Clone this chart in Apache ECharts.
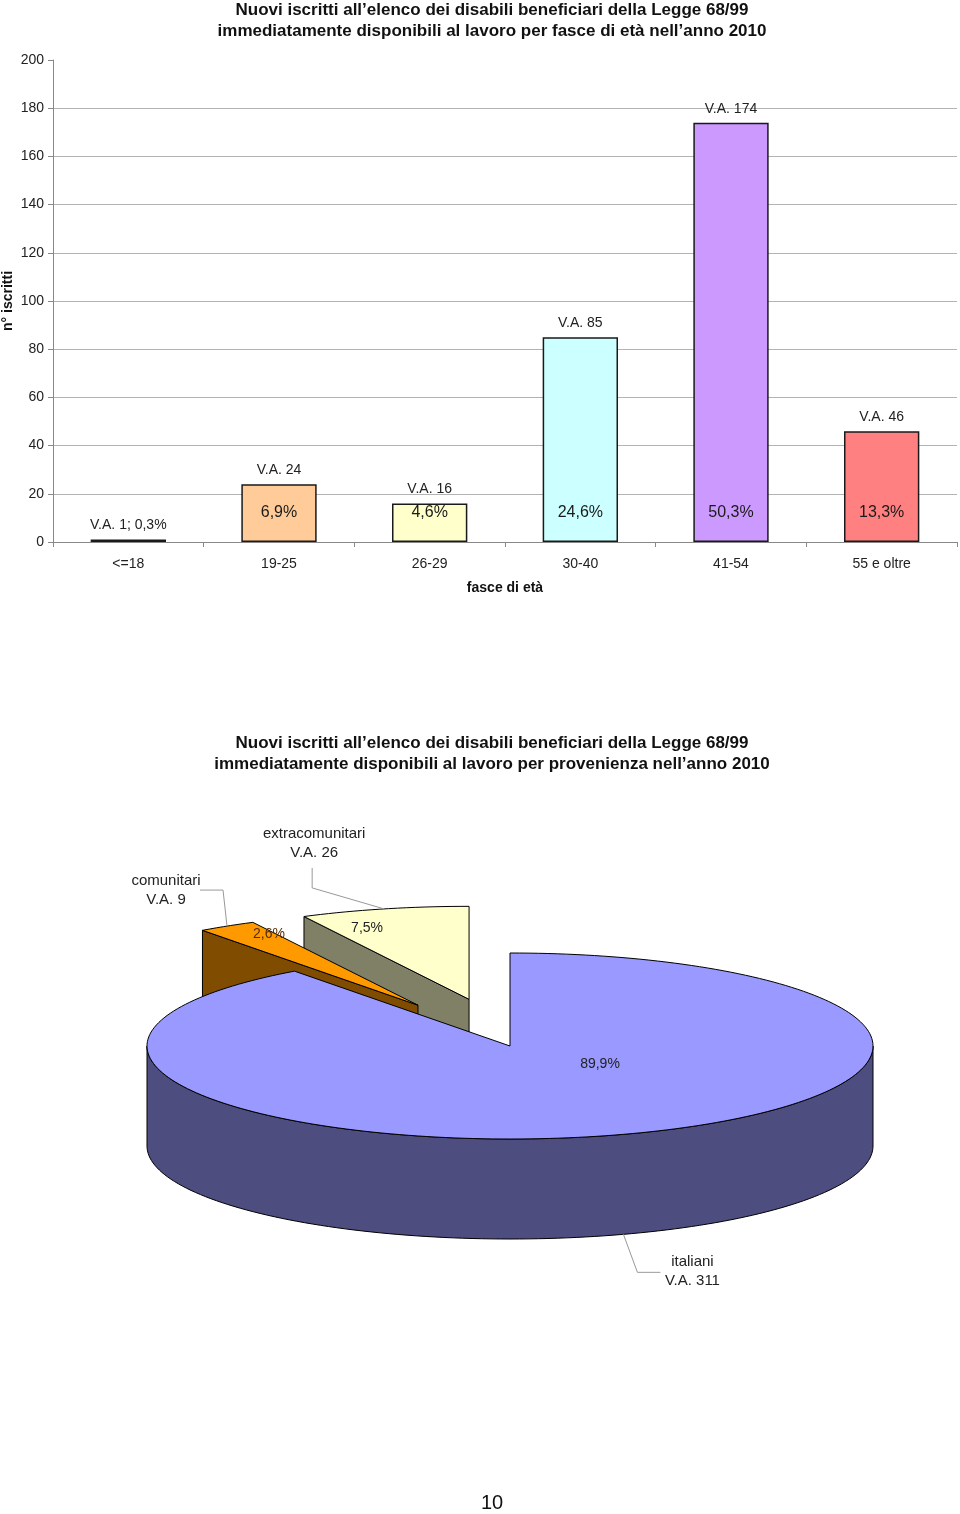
<!DOCTYPE html>
<html><head><meta charset="utf-8">
<script src="https://cdn.jsdelivr.net/npm/echarts@6/dist/echarts.min.js"></script>
<style>html,body{margin:0;padding:0;background:#fff}#c{width:960px;height:1514px}</style>
</head><body><div id="c"></div>
<script>
// ---------- data ----------
const ageCategories = ['<=18', '19-25', '26-29', '30-40', '41-54', '55 e oltre'];
const ageValues = [1, 24, 16, 85, 174, 46];
const agePercents = ['0,3%', '6,9%', '4,6%', '24,6%', '50,3%', '13,3%'];
const yTicks = [0, 20, 40, 60, 80, 100, 120, 140, 160, 180, 200];

const originCategories = ['italiani', 'comunitari', 'extracomunitari'];
const originValues = [311, 9, 26];
const originPercents = ['89,9%', '2,6%', '7,5%'];

const barTitle = 'Nuovi iscritti all\u2019elenco dei disabili beneficiari della Legge 68/99\nimmediatamente disponibili al lavoro per fasce di età nell\u2019anno 2010';
const pieTitle = 'Nuovi iscritti all\u2019elenco dei disabili beneficiari della Legge 68/99\nimmediatamente disponibili al lavoro per provenienza nell\u2019anno 2010';

// ---------- styles ----------
const FONT = '"Liberation Sans", Arial, sans-serif';
const barColors = ['#333399', '#FFCC99', '#FFFFCC', '#CCFFFF', '#CC99FF', '#FF8080'];
const pctLabelLevel = 12.2;

const PIE = {cx: 510, cy: 1046, rx: 363, ry: 93, depth: 100, ex: 175, ey: 48};
const pieTop = ['#9999FF', '#FF9900', '#FFFFCC'];
const pieSide = ['#4D4D80', '#804C00', '#808066'];
const pieExplode = [0, 1, 1];
const pieZ = [3, 2, 1];
const piePctOffset = [[90, 18], [-149, -71], [-102, -71]];
const pieLeader = [
  {bend: [14, 38], end: [37, 38], text: [69, 37]},
  {bend: [-4, -36], end: [-27, -36], text: [-61, -36]},
  {bend: [-72, -21], end: [-72, -41], text: [-70, -66]}
];

const total = originValues.reduce((a, b) => a + b, 0);
const starts = [];
{ let acc = 0; originValues.forEach(v => { starts.push(acc); acc += v / total * 360; }); }

const R = Math.PI / 180;
function pt(cx, cy, a, dy) { return [cx + PIE.rx * Math.sin(a * R), cy - PIE.ry * Math.cos(a * R) + (dy || 0)]; }
function arc(cx, cy, a1, a2, dy) {
  const n = Math.max(2, Math.ceil((a2 - a1) / 1.5));
  const out = [];
  for (let k = 0; k <= n; k++) out.push(pt(cx, cy, a1 + (a2 - a1) * k / n, dy));
  return out;
}

function renderPie(params, api) {
  const i = params.dataIndex;
  const v = api.value(0);
  const a1 = starts[i], a2 = a1 + v / total * 360;
  const mid = (a1 + a2) / 2;
  const ox = pieExplode[i] * PIE.ex * Math.sin(mid * R);
  const oy = -pieExplode[i] * PIE.ey * Math.cos(mid * R);
  const cx = PIE.cx + ox, cy = PIE.cy + oy, D = PIE.depth;
  const base = pieZ[i] * 10;
  const st = (fill) => ({fill: fill, stroke: '#000', lineWidth: 1, lineJoin: 'round'});
  const ch = [];
  if (Math.sin(a1 * R) < -1e-6) {
    const p = pt(cx, cy, a1);
    ch.push({type: 'polygon', z2: base + 1, shape: {points: [[cx, cy], p, [p[0], p[1] + D], [cx, cy + D]]}, style: st(pieSide[i])});
  }
  if (Math.sin(a2 * R) > 1e-6) {
    const p = pt(cx, cy, a2);
    ch.push({type: 'polygon', z2: base + 1, shape: {points: [[cx, cy], p, [p[0], p[1] + D], [cx, cy + D]]}, style: st(pieSide[i])});
  }
  const s = Math.max(a1, 90), e = Math.min(a2, 270);
  if (e > s) {
    const pts = arc(cx, cy, s, e, 0).concat(arc(cx, cy, s, e, D).reverse());
    ch.push({type: 'polygon', z2: base + 2, shape: {points: pts}, style: st(pieSide[i])});
  }
  ch.push({type: 'polygon', z2: base + 3, shape: {points: [[cx, cy]].concat(arc(cx, cy, a1, a2, 0))}, style: st(pieTop[i])});
  ch.push({type: 'text', z2: 100, style: {text: originPercents[i], x: cx + piePctOffset[i][0], y: cy + piePctOffset[i][1],
    align: 'center', verticalAlign: 'middle', fill: i === 1 ? '#5a2d00' : '#222', font: '14px ' + FONT}});
  const front = Math.cos(mid * R) < 0;
  const an = pt(cx, cy, mid, front ? D : 0);
  const L = pieLeader[i];
  ch.push({type: 'polyline', z2: 99, shape: {points: [an, [an[0] + L.bend[0], an[1] + L.bend[1]], [an[0] + L.end[0], an[1] + L.end[1]]]},
    style: {stroke: '#999', lineWidth: 1, fill: null}});
  ch.push({type: 'text', z2: 100, style: {text: originCategories[i] + '\nV.A. ' + v, x: an[0] + L.text[0], y: an[1] + L.text[1],
    align: 'center', verticalAlign: 'middle', fill: '#222', font: '15px ' + FONT, lineHeight: 19}});
  return {type: 'group', children: ch};
}

const chart = echarts.init(document.getElementById('c'), null, {renderer: 'canvas'});
const gridColors = yTicks.map((t, k) => k === yTicks.length - 1 ? 'rgba(0,0,0,0)' : '#b3b3b3');

chart.setOption({
  animation: false,
  backgroundColor: '#fff',
  textStyle: {fontFamily: FONT},
  graphic: [
    {type: 'text', x: 492, y: 0, silent: true, style: {text: barTitle, align: 'center', verticalAlign: 'top', font: 'bold 17px ' + FONT, lineHeight: 21, fill: '#111'}},
    {type: 'text', x: 492, y: 733, silent: true, style: {text: pieTitle, align: 'center', verticalAlign: 'top', font: 'bold 17px ' + FONT, lineHeight: 21, fill: '#111'}},
    {type: 'text', x: 492, y: 1493, silent: true, style: {text: '10', align: 'center', verticalAlign: 'top', font: '20px ' + FONT, fill: '#111'}}
  ],
  grid: {left: 53, right: 3, top: 60, bottom: 972, containLabel: false, outerBoundsMode: 'none'},
  xAxis: {
    type: 'category', data: ageCategories,
    axisLine: {lineStyle: {color: '#888'}},
    axisTick: {show: true, length: 5, lineStyle: {color: '#888'}},
    axisLabel: {fontSize: 14, color: '#222', margin: 15, fontFamily: FONT},
    name: 'fasce di età', nameLocation: 'middle', nameGap: 39, nameMoveOverlap: false,
    nameTextStyle: {fontSize: 14, fontWeight: 'bold', color: '#111', fontFamily: FONT}
  },
  yAxis: {
    type: 'value', min: 0, max: 200, interval: 20,
    axisLine: {show: true, lineStyle: {color: '#888'}},
    axisTick: {show: true, length: 5, lineStyle: {color: '#888'}},
    axisLabel: {fontSize: 14, color: '#222', margin: 9, fontFamily: FONT},
    splitLine: {show: true, lineStyle: {color: gridColors, width: 1}},
    name: 'n° iscritti', nameLocation: 'middle', nameGap: 38, nameRotate: 90, nameMoveOverlap: false,
    nameTextStyle: {fontSize: 14, fontWeight: 'bold', color: '#111', fontFamily: FONT}
  },
  series: [
    {
      type: 'bar', barWidth: '50%',
      data: ageValues.map((v, i) => ({value: v, itemStyle: {color: barColors[i]}})),
      itemStyle: {borderColor: '#1a1a1a', borderWidth: 1.5},
      label: {show: true, position: 'top', distance: 7, fontSize: 14, color: '#222', fontFamily: FONT,
        formatter: p => p.dataIndex === 0 ? 'V.A. ' + p.value + '; ' + agePercents[0] : 'V.A. ' + p.value}
    },
    {
      type: 'scatter', symbolSize: 0, silent: true, z: 5,
      itemStyle: {opacity: 1},
      data: ageValues.map((v, i) => i === 0 ? [i, '-'] : [i, pctLabelLevel]),
      label: {show: true, position: 'inside', fontSize: 16, color: '#1a1a1a', opacity: 1, textBorderWidth: 0, fontFamily: FONT,
        formatter: p => agePercents[p.dataIndex]}
    },
    {
      type: 'custom', coordinateSystem: 'none', silent: true,
      data: originValues.map(v => [v]),
      renderItem: renderPie
    }
  ]
});
</script></body></html>
